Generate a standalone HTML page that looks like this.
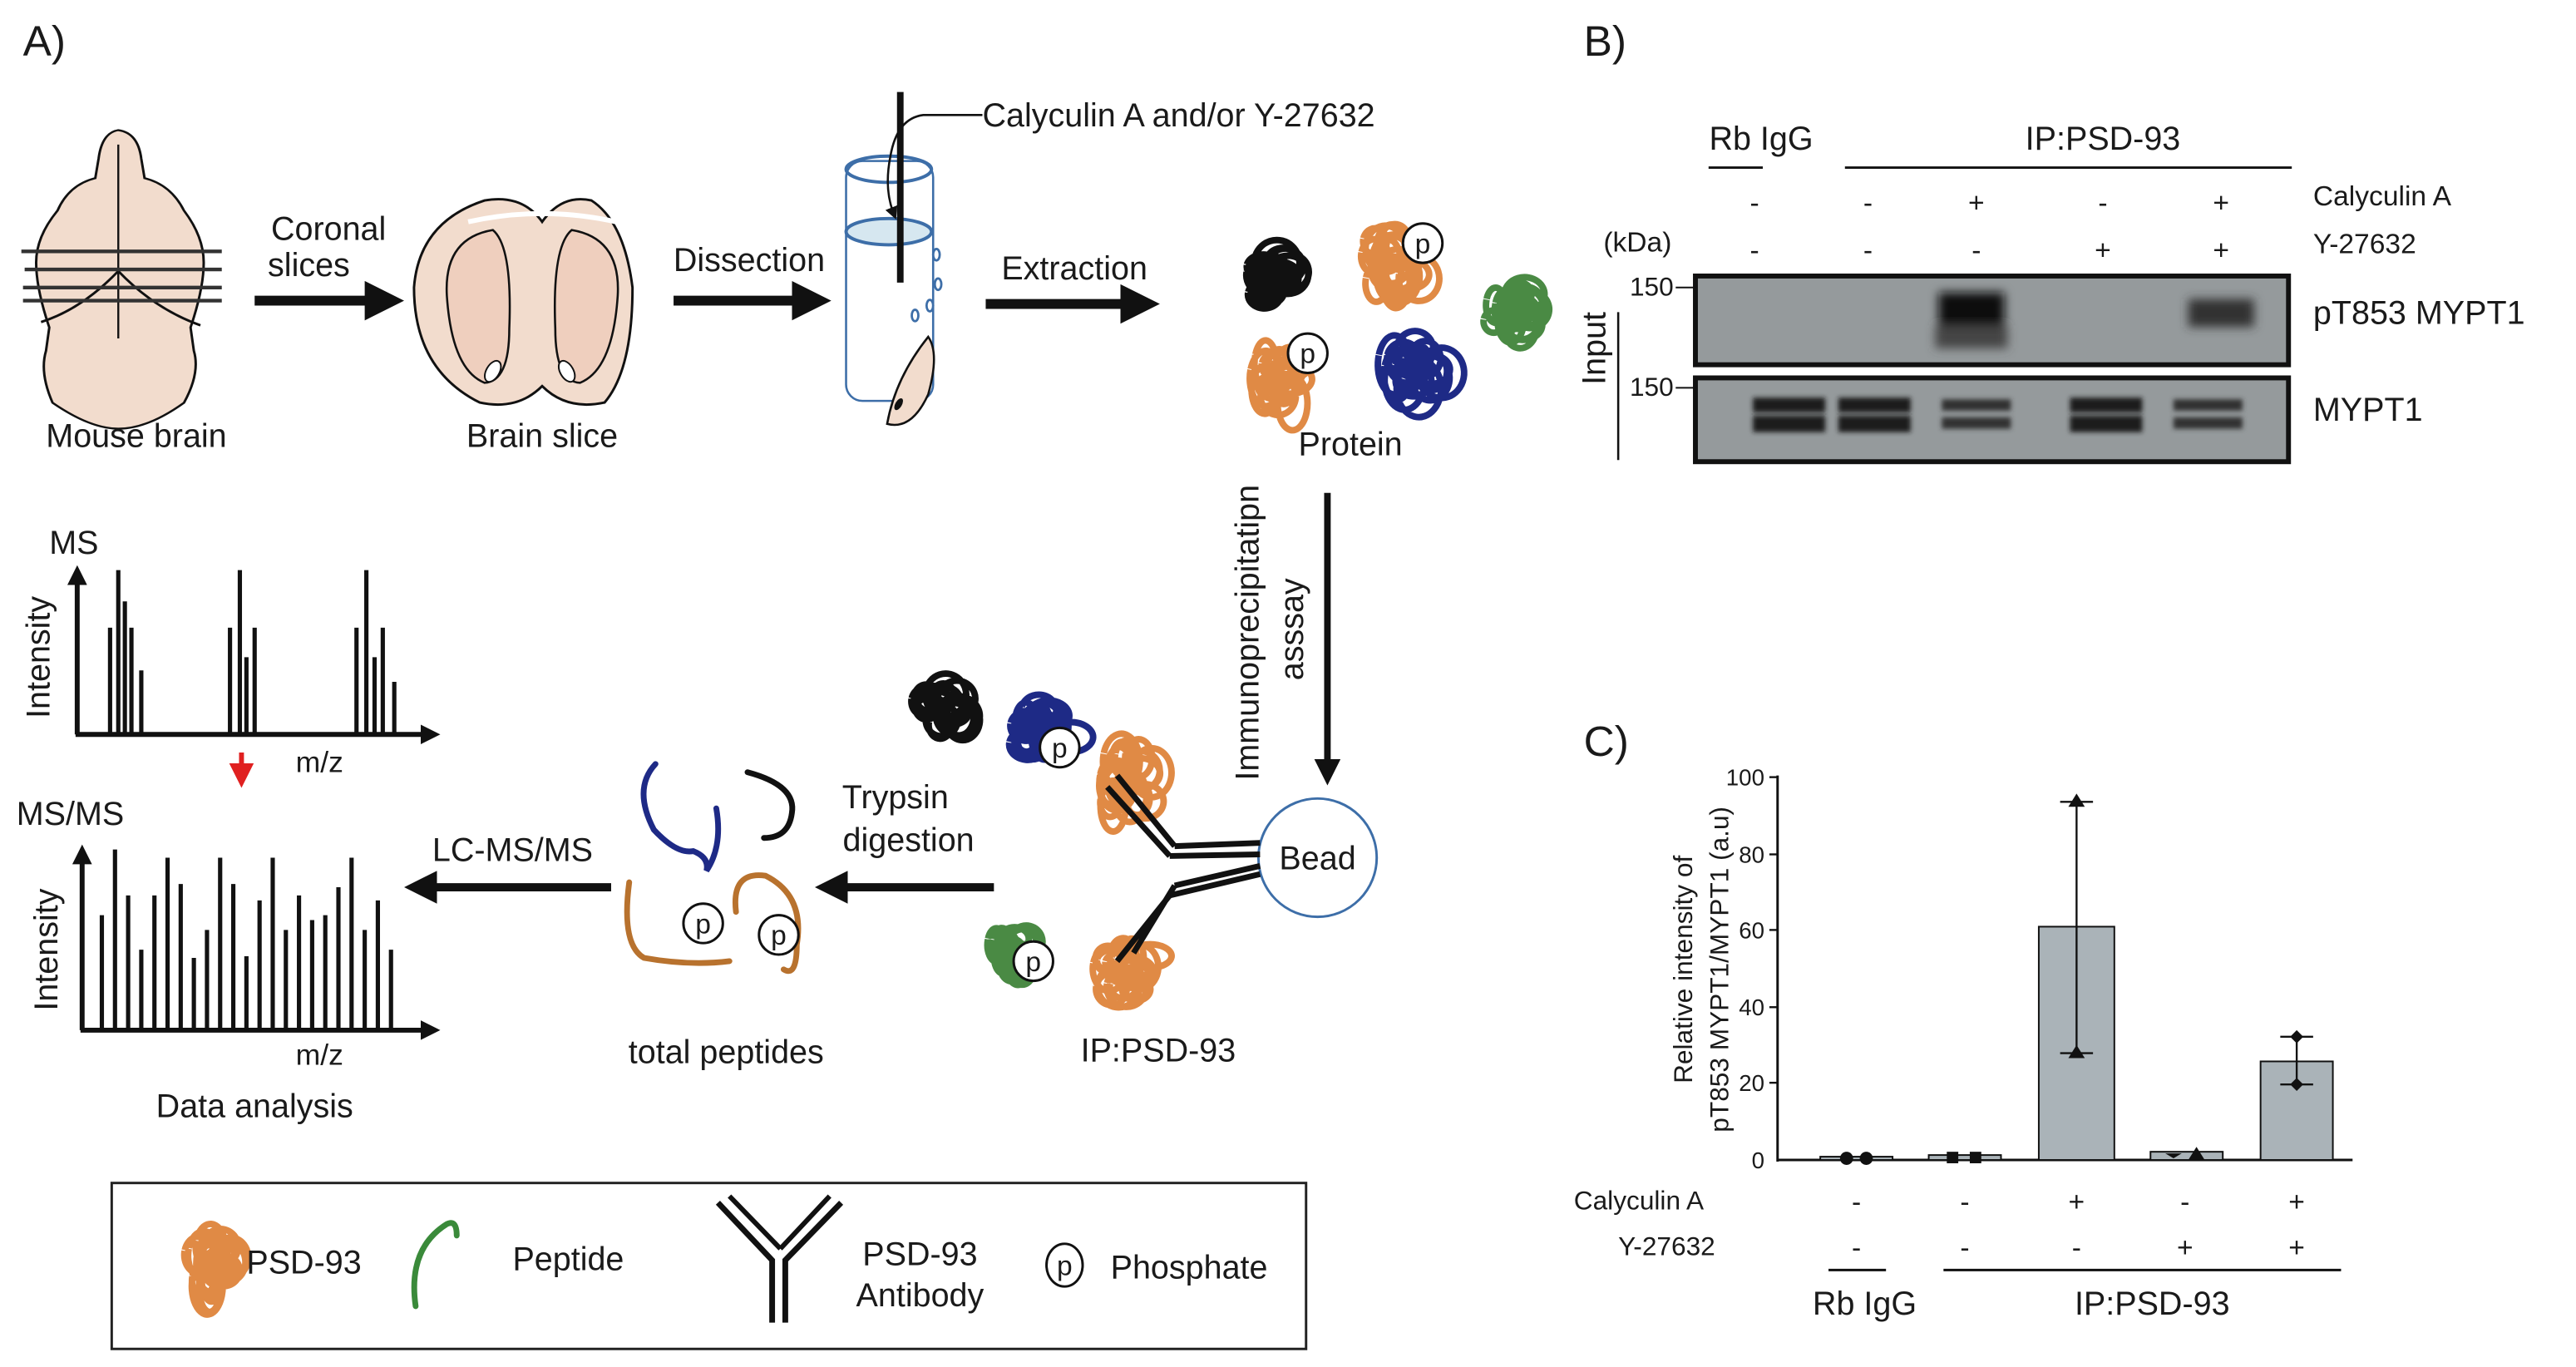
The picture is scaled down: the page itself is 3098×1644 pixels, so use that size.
<!DOCTYPE html>
<html><head><meta charset="utf-8"><style>
html,body{margin:0;padding:0;background:#fff}
svg{display:block}
text{font-family:"Liberation Sans",sans-serif;fill:#1a1a1a}
</style></head><body>
<svg id="s" width="3098" height="1644" viewBox="0 0 1568 832" preserveAspectRatio="none" xmlns="http://www.w3.org/2000/svg">
<defs>
<marker id="ah" markerWidth="4" markerHeight="4" refX="2" refY="2" orient="auto" markerUnits="strokeWidth"><path d="M0,0L4,2L0,4Z" fill="#111"/></marker>
<marker id="ahs" markerWidth="6" markerHeight="6" refX="3" refY="3" orient="auto" markerUnits="strokeWidth"><path d="M0,0L6,3L0,6Z" fill="#111"/></marker>
<marker id="ahr" markerWidth="5" markerHeight="5" refX="2.5" refY="2.5" orient="auto" markerUnits="strokeWidth"><path d="M0,0L5,2.5L0,5Z" fill="#e02020"/></marker>
<filter id="bl" x="-20%" y="-50%" width="140%" height="200%"><feGaussianBlur stdDeviation="3"/></filter>
<filter id="bl2" x="-20%" y="-50%" width="140%" height="200%"><feGaussianBlur stdDeviation="1.5"/></filter>
</defs>
<rect width="1568" height="832" fill="#fff"/>
<g font-size="22">
<text x="14" y="34" font-size="26">A)</text>
<text x="964" y="34" font-size="26">B)</text>
<text x="964" y="460" font-size="26">C)</text>
</g>

<!-- Mouse brain -->
<path d="M72,88 Q62,90 60,110 L58,125 Q42,130 35,150 Q22,170 22,190 Q22,210 30,240 L28,258 Q24,275 32,298 Q55,318 72,318 Q90,318 112,298 Q122,275 118,258 L116,240 Q124,210 124,190 Q124,170 112,150 Q104,130 88,125 L86,110 Q84,90 72,88Z" fill="#f2dccd" stroke="#111" stroke-width="1.5" transform="translate(0,-14) scale(1,0.79) translate(0,30)"/>
<line x1="72" y1="88" x2="72" y2="206" stroke="#111" stroke-width="1.2"/>
<path d="M25,196 Q50,188 72,165 Q94,188 122,198" fill="none" stroke="#111" stroke-width="1.5"/>
<g stroke="#333" stroke-width="2.2"><line x1="13" y1="153" x2="135" y2="153"/><line x1="15" y1="164" x2="135" y2="164"/><line x1="14" y1="175" x2="135" y2="175"/><line x1="14" y1="183" x2="135" y2="183"/></g>
<text x="83" y="272" font-size="20" text-anchor="middle">Mouse brain</text>
<line x1="155" y1="183" x2="234" y2="183" stroke="#111" stroke-width="6" marker-end="url(#ah)"/>
<text x="200" y="146" font-size="20" text-anchor="middle">Coronal</text>
<text x="188" y="168" font-size="20" text-anchor="middle">slices</text>

<!-- brain slice -->
<path d="M330,135 Q318,118 295,122 Q255,135 252,175 Q252,225 292,245 Q315,250 330,235 Q345,250 368,245 Q385,225 385,175 Q380,135 360,122 Q342,118 330,135Z" fill="#f2dccd" stroke="#111" stroke-width="1.5"/>
<path d="M300,140 Q270,145 272,180 Q275,225 295,233 Q310,232 310,200 Q312,150 300,140Z" fill="#efcfbe" stroke="#111" stroke-width="1.3"/>
<path d="M360,140 Q390,145 388,180 Q385,225 365,233 Q350,232 350,200 Q348,150 360,140Z" fill="#efcfbe" stroke="#111" stroke-width="1.3" transform="translate(-12,0)"/>
<path d="M285,135 Q330,125 375,135" fill="none" stroke="#fff" stroke-width="3"/>
<ellipse cx="300" cy="226" rx="4" ry="7" fill="#fff" stroke="#111" transform="rotate(30 300 226)"/>
<ellipse cx="345" cy="226" rx="4" ry="7" fill="#fff" stroke="#111" transform="rotate(-30 345 226)"/>
<text x="330" y="272" font-size="20" text-anchor="middle">Brain slice</text>
<line x1="410" y1="183" x2="494" y2="183" stroke="#111" stroke-width="6" marker-end="url(#ah)"/>
<text x="456" y="165" font-size="20" text-anchor="middle">Dissection</text>

<!-- tube -->
<rect x="515" y="98" width="53" height="146" rx="10" fill="#fff" stroke="#3d6ea8" stroke-width="1.3"/>
<ellipse cx="541" cy="103" rx="26" ry="8" fill="none" stroke="#3d6ea8" stroke-width="2"/>
<ellipse cx="541" cy="141" rx="26" ry="8" fill="#d6e7f0" stroke="#3d6ea8" stroke-width="2"/>
<line x1="548" y1="56" x2="548" y2="172" stroke="#111" stroke-width="4"/>
<path d="M598,70 L562,70 Q546,72 542,95 Q538,115 544,130" fill="none" stroke="#111" stroke-width="1.3" marker-end="url(#ahs)"/>
<text x="598" y="77" font-size="20">Calyculin A and/or Y-27632</text>
<g fill="none" stroke="#3d6ea8" stroke-width="1.4"><ellipse cx="570" cy="155" rx="2" ry="3.5"/><ellipse cx="571" cy="173" rx="2" ry="3.5"/><ellipse cx="566" cy="186" rx="2" ry="3.5"/><ellipse cx="557" cy="192" rx="2" ry="3.5"/></g>
<path d="M565,205 Q572,215 565,240 Q555,262 540,258 Q545,230 565,205Z" fill="#f2dccd" stroke="#111" stroke-width="1.3"/>
<ellipse cx="547" cy="246" rx="2" ry="4" fill="#111" transform="rotate(30 547 246)"/>
<line x1="600" y1="185" x2="694" y2="185" stroke="#111" stroke-width="6" marker-end="url(#ah)"/>
<text x="654" y="170" font-size="20" text-anchor="middle">Extraction</text>
<g id="blobs"></g>
<g font-size="17">
<circle cx="866" cy="148" r="12" fill="#fff" stroke="#111" stroke-width="1.5"/><text x="866" y="154" text-anchor="middle">p</text>
<circle cx="796" cy="215" r="12" fill="#fff" stroke="#111" stroke-width="1.5"/><text x="796" y="221" text-anchor="middle">p</text>
</g>
<text x="822" y="277" font-size="20" text-anchor="middle">Protein</text>
<line x1="808" y1="300" x2="808" y2="470" stroke="#111" stroke-width="4" marker-end="url(#ah)"/>
<text transform="translate(766,385) rotate(-90)" font-size="20" text-anchor="middle">Immunoprecipitatipn</text>
<text transform="translate(793,383) rotate(-90)" font-size="20" text-anchor="middle">asssay</text>
<circle cx="802" cy="522" r="36" fill="#fff" stroke="#3d6ea8" stroke-width="1.5"/>
<text x="802" y="529" font-size="20" text-anchor="middle">Bead</text>
<g stroke="#111" stroke-width="3.5" fill="none">
<path d="M767,513 L715,515"/><path d="M767,520 L712,521"/>
<path d="M715,515 L680,472 M712,521 L674,479"/>
<path d="M767,527 L715,539"/><path d="M767,532 L712,545"/>
<path d="M715,539 L690,580 M712,545 L680,585"/>
</g>
<g font-size="17">
<circle cx="645" cy="455" r="12" fill="#fff" stroke="#111" stroke-width="1.5"/><text x="645" y="461" text-anchor="middle">p</text>
<circle cx="629" cy="585" r="12" fill="#fff" stroke="#111" stroke-width="1.5"/><text x="629" y="591" text-anchor="middle">p</text>
</g>
<text x="705" y="646" font-size="20" text-anchor="middle">IP:PSD-93</text>
<line x1="605" y1="540" x2="506" y2="540" stroke="#111" stroke-width="5" marker-end="url(#ah)"/>
<text x="545" y="492" font-size="20" text-anchor="middle">Trypsin</text>
<text x="553" y="518" font-size="20" text-anchor="middle">digestion</text>
<g fill="none" stroke-width="3.5" stroke-linecap="round">
<path d="M399,465 Q385,480 398,505 Q412,520 422,518 Q432,522 430,530 Q440,515 436,492" stroke="#1e2a86"/>
<path d="M455,470 Q485,478 482,495 Q480,510 465,510" stroke="#111"/>
<path d="M383,537 Q378,575 392,583 Q420,588 444,585" stroke="#b8722e"/>
<path d="M448,555 Q445,530 466,533 Q490,545 485,575 Q485,595 477,590" stroke="#b8722e"/>
</g>
<g font-size="17">
<circle cx="428" cy="562" r="12" fill="#fff" stroke="#111" stroke-width="1.5"/><text x="428" y="568" text-anchor="middle">p</text>
<circle cx="474" cy="569" r="12" fill="#fff" stroke="#111" stroke-width="1.5"/><text x="474" y="575" text-anchor="middle">p</text>
</g>
<text x="442" y="647" font-size="20" text-anchor="middle">total peptides</text>
<line x1="372" y1="540" x2="256" y2="540" stroke="#111" stroke-width="5" marker-end="url(#ah)"/>
<text x="312" y="524" font-size="20" text-anchor="middle">LC-MS/MS</text>
<text x="30" y="337" font-size="20">MS</text>
<text transform="translate(30,400) rotate(-90)" font-size="20" text-anchor="middle">Intensity</text>
<line x1="47" y1="447" x2="47" y2="350" stroke="#111" stroke-width="3" marker-end="url(#ah)"/>
<line x1="46" y1="447" x2="262" y2="447" stroke="#111" stroke-width="3" marker-end="url(#ah)"/>
<g id="ms1" stroke="#111" stroke-width="2.6"></g>
<text x="180" y="470" font-size="18">m/z</text>
<line x1="147" y1="458" x2="147" y2="472" stroke="#e02020" stroke-width="3" marker-end="url(#ahr)"/>
<text x="10" y="502" font-size="20">MS/MS</text>
<text transform="translate(35,578) rotate(-90)" font-size="20" text-anchor="middle">Intensity</text>
<line x1="50" y1="627" x2="50" y2="520" stroke="#111" stroke-width="3" marker-end="url(#ah)"/>
<line x1="49" y1="627" x2="262" y2="627" stroke="#111" stroke-width="3" marker-end="url(#ah)"/>
<g id="ms2" stroke="#111" stroke-width="2.6"></g>
<text x="180" y="648" font-size="18">m/z</text>
<text x="155" y="680" font-size="20" text-anchor="middle">Data analysis</text>
<rect x="68" y="720" width="727" height="101" fill="none" stroke="#222" stroke-width="1.5"/>
<text x="150" y="775" font-size="20">PSD-93</text>
<path d="M253,795 Q248,760 272,745 Q278,742 278,752" fill="none" stroke="#3a8a3a" stroke-width="3.5" stroke-linecap="round"/>
<text x="312" y="773" font-size="20">Peptide</text>
<g stroke="#111" stroke-width="3.5" fill="none">
<path d="M470,805 L470,767 L437,732 M478,805 L478,767 L512,732"/>
<path d="M444,728 L475,760 M505,728 L475,760" stroke-width="3"/>
</g>
<text x="560" y="770" font-size="20" text-anchor="middle">PSD-93</text>
<text x="560" y="795" font-size="20" text-anchor="middle">Antibody</text>
<ellipse cx="648" cy="770" rx="11" ry="13" fill="#fff" stroke="#111" stroke-width="1.5"/><text x="648" y="776" font-size="17" text-anchor="middle">p</text>
<text x="676" y="778" font-size="20">Phosphate</text>

<!-- Panel B -->
<g font-size="20">
<text x="1072" y="91" text-anchor="middle">Rb IgG</text>
<text x="1280" y="91" text-anchor="middle">IP:PSD-93</text>
</g>
<line x1="1040" y1="102" x2="1073" y2="102" stroke="#111" stroke-width="1.5"/>
<line x1="1123" y1="102" x2="1395" y2="102" stroke="#111" stroke-width="1.5"/>
<g font-size="17" text-anchor="middle">
<text x="1068" y="129">-</text><text x="1137" y="129">-</text><text x="1203" y="129">+</text><text x="1280" y="129">-</text><text x="1352" y="129">+</text>
<text x="1068" y="158">-</text><text x="1137" y="158">-</text><text x="1203" y="158">-</text><text x="1280" y="158">+</text><text x="1352" y="158">+</text>
</g>
<text x="1408" y="125" font-size="17">Calyculin A</text>
<text x="1408" y="154" font-size="17">Y-27632</text>
<text x="976" y="153" font-size="17">(kDa)</text>
<rect x="1032" y="168" width="361" height="54" fill="#959a9c" stroke="#111" stroke-width="3"/>
<g filter="url(#bl)"><rect x="1180" y="178" width="40" height="25" fill="#111"/><rect x="1178" y="198" width="44" height="14" fill="#444"/><rect x="1332" y="182" width="40" height="17" fill="#333"/></g>
<rect x="1032" y="230" width="361" height="51" fill="#959a9c" stroke="#111" stroke-width="3"/>
<g filter="url(#bl2)" fill="#1a1a1a">
<rect x="1067" y="242" width="44" height="9"/><rect x="1067" y="253" width="44" height="10"/>
<rect x="1119" y="242" width="44" height="9"/><rect x="1119" y="253" width="44" height="10"/>
<rect x="1182" y="243" width="42" height="7" fill="#333"/><rect x="1182" y="254" width="42" height="7" fill="#333"/>
<rect x="1260" y="242" width="44" height="9"/><rect x="1260" y="253" width="44" height="10"/>
<rect x="1323" y="243" width="42" height="7" fill="#333"/><rect x="1323" y="254" width="42" height="7" fill="#333"/>
</g>
<text x="992" y="180" font-size="16">150</text><line x1="1020" y1="175" x2="1032" y2="175" stroke="#111"/>
<text x="992" y="241" font-size="16">150</text><line x1="1020" y1="236" x2="1032" y2="236" stroke="#111"/>
<line x1="985" y1="190" x2="985" y2="280" stroke="#111" stroke-width="1.3"/>
<text transform="translate(977,212) rotate(-90)" font-size="20" text-anchor="middle">Input</text>
<text x="1408" y="197" font-size="20">pT853 MYPT1</text>
<text x="1408" y="256" font-size="20">MYPT1</text>

<!-- Panel C -->
<line x1="1082" y1="472" x2="1082" y2="707" stroke="#111" stroke-width="1.5"/>
<line x1="1082" y1="706" x2="1432" y2="706" stroke="#111" stroke-width="1.5"/>
<g font-size="14" text-anchor="end">
<text x="1074" y="478">100</text><text x="1074" y="525">80</text><text x="1074" y="571">60</text><text x="1074" y="618">40</text><text x="1074" y="664">20</text><text x="1074" y="711">0</text>
</g>
<g stroke="#111" stroke-width="1.2"><line x1="1077" y1="473" x2="1082" y2="473"/><line x1="1077" y1="520" x2="1082" y2="520"/><line x1="1077" y1="566" x2="1082" y2="566"/><line x1="1077" y1="613" x2="1082" y2="613"/><line x1="1077" y1="659" x2="1082" y2="659"/></g>
<text transform="translate(1030,590) rotate(-90)" font-size="16" text-anchor="middle">Relative intensity of</text>
<text transform="translate(1052,590) rotate(-90)" font-size="16" text-anchor="middle">pT853 MYPT1/MYPT1 (a.u)</text>
<g fill="#aab3b8" stroke="#111" stroke-width="1">
<rect x="1108" y="704" width="44" height="2"/>
<rect x="1174" y="703" width="44" height="3"/>
<rect x="1241" y="564" width="46" height="142"/>
<rect x="1309" y="701" width="44" height="5"/>
<rect x="1376" y="646" width="44" height="60"/>
</g>
<g stroke="#111" stroke-width="1.2">
<line x1="1264" y1="488" x2="1264" y2="641"/><line x1="1254" y1="488" x2="1274" y2="488"/><line x1="1254" y1="641" x2="1274" y2="641"/>
<line x1="1398" y1="631" x2="1398" y2="660"/><line x1="1388" y1="631" x2="1408" y2="631"/><line x1="1388" y1="660" x2="1408" y2="660"/>
</g>
<g fill="#111">
<circle cx="1124" cy="705" r="4"/><circle cx="1136" cy="705" r="4"/>
<rect x="1185" y="701" width="7" height="7"/><rect x="1199" y="701" width="7" height="7"/>
<path d="M1264,483 L1269,491 L1259,491Z"/><path d="M1264,636 L1269,644 L1259,644Z"/>
<path d="M1323,705 L1328,702 L1318,702Z"/><path d="M1337,698 L1342,706 L1332,706Z"/>
<path d="M1398,627 L1402,631 L1398,635 L1394,631Z"/><path d="M1398,656 L1402,660 L1398,664 L1394,660Z"/>
</g>
<text x="958" y="736" font-size="16">Calyculin A</text>
<text x="985" y="764" font-size="16">Y-27632</text>
<g font-size="17" text-anchor="middle">
<text x="1130" y="737">-</text><text x="1196" y="737">-</text><text x="1264" y="737">+</text><text x="1330" y="737">-</text><text x="1398" y="737">+</text>
<text x="1130" y="765">-</text><text x="1196" y="765">-</text><text x="1264" y="765">-</text><text x="1330" y="765">+</text><text x="1398" y="765">+</text>
</g>
<line x1="1113" y1="773" x2="1148" y2="773" stroke="#111" stroke-width="1.5"/>
<line x1="1183" y1="773" x2="1425" y2="773" stroke="#111" stroke-width="1.5"/>
<text x="1135" y="800" font-size="20" text-anchor="middle">Rb IgG</text>
<text x="1310" y="800" font-size="20" text-anchor="middle">IP:PSD-93</text>
</svg>
<script>
(function(){
var NS="http://www.w3.org/2000/svg";
var seed=7;function r(){seed=(seed*9301+49297)%233280;return seed/233280;}
function blob(cx,cy,rx,ry,col,g){
 var d="";
 for(var k=0;k<16;k++){
  var x=cx+(r()-0.5)*rx*1.0,y=cy+(r()-0.5)*ry*1.0,a=rx*(0.3+r()*0.35),b=ry*(0.3+r()*0.35);
  d+="M"+(x+a)+","+y+" A"+a+","+b+" 0 1 1 "+(x+a-0.1)+","+(y+0.5)+" ";
 }
 var p=document.createElementNS(NS,"path");
 p.setAttribute("d",d);p.setAttribute("fill","none");p.setAttribute("stroke",col);p.setAttribute("stroke-width","4");
 g.appendChild(p);
}
var g=document.getElementById("blobs");
var O="#e08a45",K="#111",B="#1e2a86",G="#4a8a44";
blob(757,167,22,22,K,g);blob(830,157,22,26,O,g);blob(905,186,19,21,G,g);
blob(761,228,21,26,O,g);blob(840,220,24,28,B,g);
blob(558,430,21,20,K,g);blob(614,440,22,24,B,g);blob(668,472,20,28,O,g);
blob(603,578,16,20,G,g);blob(664,590,22,22,O,g);
blob(112,765,18,27,O,g);
function bars(id,base,list){var gg=document.getElementById(id);list.forEach(function(b){var l=document.createElementNS(NS,"line");l.setAttribute("x1",b[0]);l.setAttribute("x2",b[0]);l.setAttribute("y1",base);l.setAttribute("y2",b[1]);gg.appendChild(l);});}
bars("ms1",447,[[67,382],[72,347],[76,366],[80,382],[86,408],[140,382],[146,347],[150,400],[155,382],[217,382],[223,347],[228,400],[233,382],[240,415]]);
bars("ms2",627,[[62,557],[70,517],[78,545],[86,578],[94,545],[102,522],[110,538],[118,583],[126,566],[134,522],[142,538],[150,582],[158,548],[166,522],[174,566],[182,545],[190,560],[198,557],[206,540],[214,522],[222,566],[230,548],[238,578]]);
})();
</script>
</body></html>
